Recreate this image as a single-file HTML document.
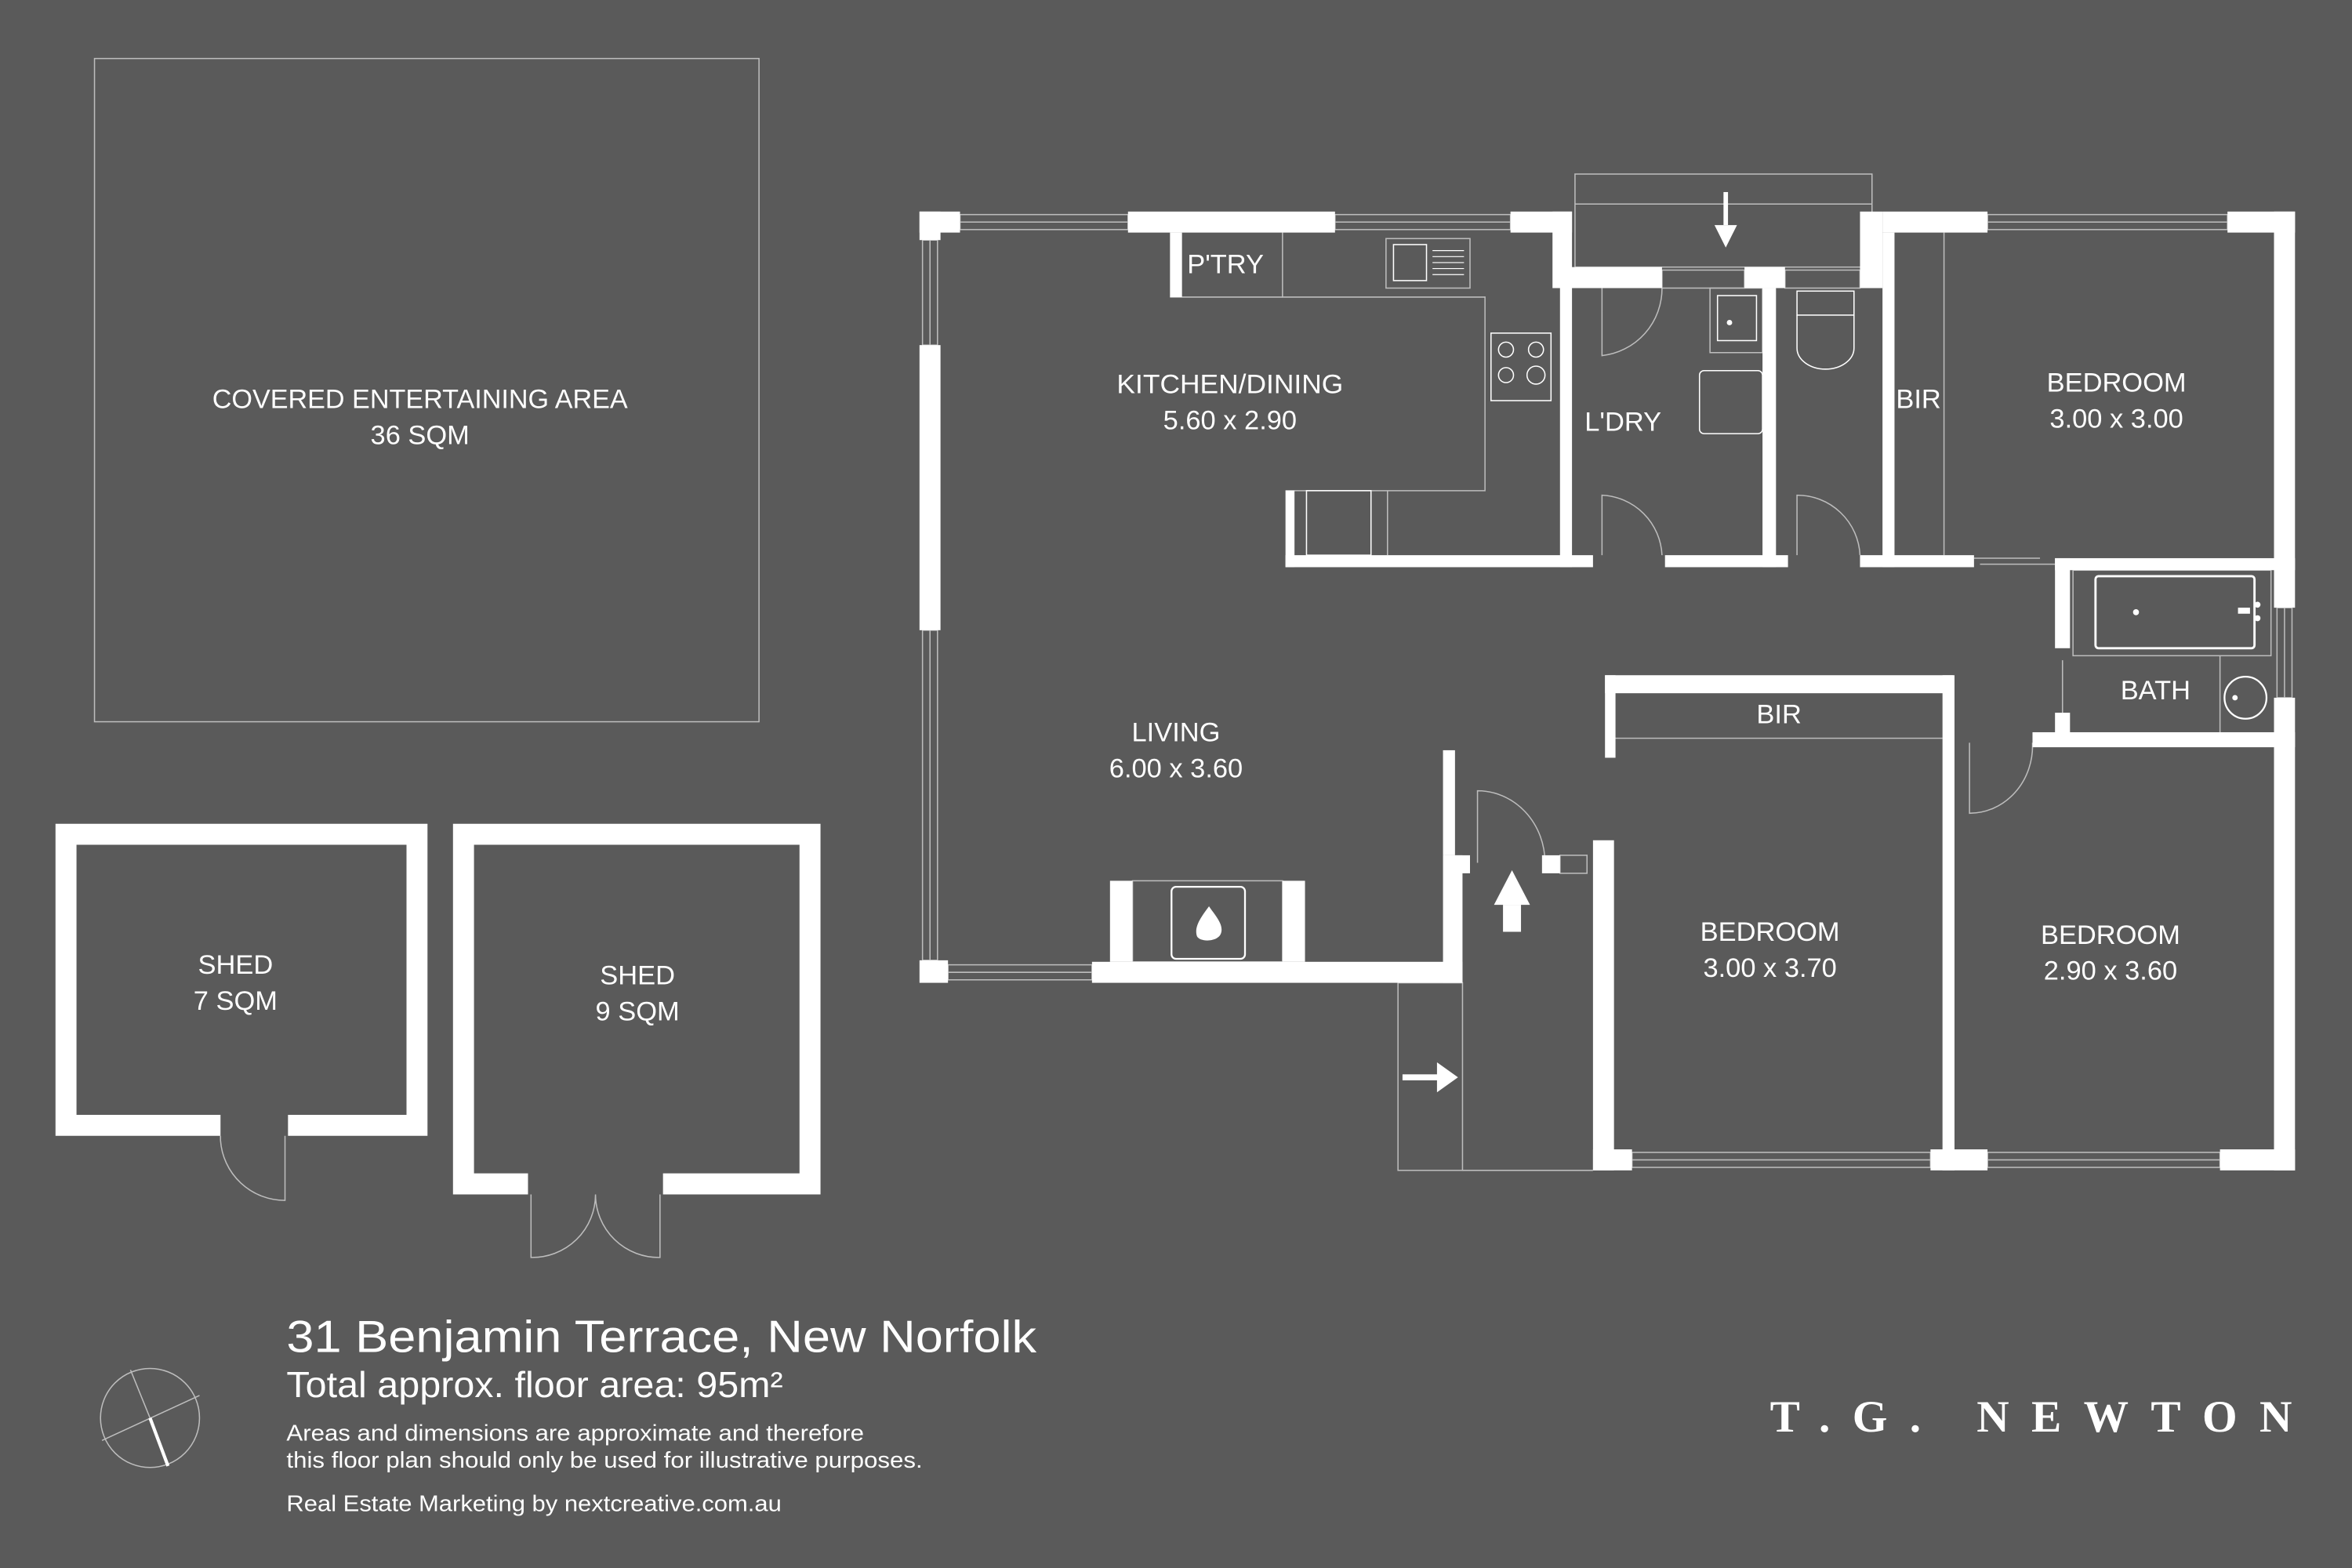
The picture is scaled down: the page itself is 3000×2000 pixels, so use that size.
<!DOCTYPE html>
<html><head><meta charset="utf-8"><style>
html,body{margin:0;padding:0;background:#5a5a5a;}
svg{display:block}
text{font-family:"Liberation Sans",sans-serif;fill:#fff}
</style></head><body>
<svg width="3000" height="2000" viewBox="0 0 1568 1045" preserveAspectRatio="none" xmlns="http://www.w3.org/2000/svg">
<rect width="1568" height="1045" fill="#5a5a5a"/>
<g fill="none" stroke="#bdbdbd" stroke-width="0.8">
 <rect x="63" y="39" width="443" height="442"/>
 <rect x="1050" y="116" width="198" height="62"/>
 <line x1="1050" y1="136" x2="1248" y2="136"/>
 <rect x="932" y="655" width="43" height="125"/>
 <line x1="975" y1="780" x2="1062" y2="780"/>
 <rect x="640" y="143" width="112" height="10"/><line x1="640" y1="148" x2="752" y2="148"/>
 <rect x="890" y="143" width="117" height="10"/><line x1="890" y1="148" x2="1007" y2="148"/>
 <rect x="1325" y="143" width="160" height="10"/><line x1="1325" y1="148" x2="1485" y2="148"/>
 <rect x="615" y="160" width="10" height="70"/><line x1="620" y1="160" x2="620" y2="230"/>
 <rect x="615" y="420" width="10" height="220"/><line x1="620" y1="420" x2="620" y2="640"/>
 <rect x="632" y="643" width="96" height="10"/><line x1="632" y1="648" x2="728" y2="648"/>
 <rect x="1088" y="768" width="199" height="10"/><line x1="1088" y1="773" x2="1287" y2="773"/>
 <rect x="1325" y="768" width="155" height="10"/><line x1="1325" y1="773" x2="1480" y2="773"/>
 <rect x="1518" y="405" width="10" height="60"/><line x1="1523" y1="405" x2="1523" y2="465"/>
 <rect x="1064" y="660" width="10" height="100"/><line x1="1069" y1="660" x2="1069" y2="760"/>
 <rect x="1108" y="180" width="55" height="12"/><rect x="1190" y="180" width="50" height="12"/>
 <rect x="1040" y="570" width="18" height="12"/>
 <polyline points="857,327 990,327 990,198 855,198 855,155"/>
 <line x1="780" y1="198" x2="855" y2="198"/>
 <line x1="925" y1="327" x2="925" y2="370"/>
 <rect x="924" y="159" width="56" height="33"/>
 <rect x="929" y="163" width="22" height="24" stroke="#fff"/>
 <g stroke="#fff" stroke-width="0.6"><line x1="955" y1="167" x2="976" y2="167"/><line x1="955" y1="171" x2="976" y2="171"/><line x1="955" y1="175" x2="976" y2="175"/><line x1="955" y1="179" x2="976" y2="179"/><line x1="955" y1="183" x2="976" y2="183"/></g>
 <rect x="994" y="222" width="40" height="45" stroke="#fff"/>
 <circle cx="1004" cy="233" r="5" stroke="#fff"/><circle cx="1024" cy="233" r="5" stroke="#fff"/>
 <circle cx="1004" cy="250" r="5" stroke="#fff"/><circle cx="1024" cy="250" r="6" stroke="#fff"/>
 <rect x="871" y="327" width="43" height="43" stroke="#fff"/>
 <rect x="755" y="587" width="100" height="54"/>
 <rect x="781" y="591" width="49" height="48" rx="3" stroke="#fff" stroke-width="1.2"/>
 <rect x="1140" y="192" width="35" height="43"/>
 <rect x="1145" y="197" width="26" height="30" stroke="#fff"/>
 <rect x="1133" y="247" width="42" height="42" rx="3" stroke="#fff"/>
 <rect x="1198" y="194" width="38" height="16" stroke="#fff"/>
 <path d="M1198 210 L1198 232 A19 14 0 0 0 1236 232 L1236 210" stroke="#fff"/>
 <path d="M1068 192 L1068 237 A45 45 0 0 0 1108 192"/>
 <path d="M1068 370 L1068 330 A42 42 0 0 1 1108 370"/>
 <path d="M1198 370 L1198 330 A42 42 0 0 1 1240 370"/>
 <path d="M985 575 L985 527 A45 48 0 0 1 1030 575"/>
 <path d="M1313 495 L1313 542 A42 45 0 0 0 1355 495"/>
 <path d="M1316 372 L1360 372 M1320 376 L1370 376"/>
 <line x1="1296" y1="155" x2="1296" y2="370"/>
 <line x1="1076" y1="492" x2="1295" y2="492"/>
 <rect x="1382" y="380" width="132" height="57"/>
 <rect x="1397" y="384" width="106" height="48" rx="2" stroke="#fff" stroke-width="1.5"/>
 <line x1="1480" y1="437" x2="1480" y2="492"/>
 <circle cx="1497" cy="465" r="14" stroke="#fff" stroke-width="1.2"/>
 <line x1="1375" y1="440" x2="1375" y2="475"/>
 <path d="M147 757 L147 760 A43 43 0 0 0 190 800 L190 757"/>
 <path d="M354 796 L354 838 A42 42 0 0 0 397 796 A42 42 0 0 0 440 838 L440 796"/>
 <circle cx="100" cy="945" r="33"/>
 <line x1="87" y1="913" x2="100" y2="945"/><line x1="68" y1="960" x2="133" y2="930"/>
</g>
<line x1="100" y1="945" x2="112" y2="977" stroke="#fff" stroke-width="2.2"/>
<g fill="#fff">
 <circle cx="1424" cy="408" r="2"/><rect x="1492" y="405" width="8" height="4"/><circle cx="1505" cy="403" r="2"/><circle cx="1505" cy="412" r="2"/>
 <circle cx="1490" cy="465" r="1.8"/><circle cx="1153" cy="215" r="1.8"/>
 <rect x="1149" y="128" width="3" height="22"/><polygon points="1143,150 1158,150 1150.5,165"/>
 <polygon points="1008,580 996,603 1020,603"/><rect x="1002" y="603" width="12" height="18"/>
 <rect x="935" y="716" width="25" height="4"/><polygon points="958,708 972,718 958,728"/>
 <path d="M806 604 C800 612 796 618 798 624 C800 628 812 628 814 622 C816 616 810 610 806 604 Z"/>
 <rect x="613" y="141" width="27" height="14"/><rect x="752" y="141" width="138" height="14"/><rect x="1007" y="141" width="41" height="14"/>
 <rect x="613" y="141" width="14" height="19"/><rect x="613" y="230" width="14" height="190"/><rect x="613" y="640" width="19" height="15"/>
 <rect x="728" y="641" width="247" height="14"/>
 <rect x="740" y="587" width="15" height="54"/><rect x="855" y="587" width="15" height="54"/>
 <rect x="962" y="500" width="8" height="70"/><rect x="962" y="570" width="13" height="85"/>
 <rect x="1035" y="141" width="13" height="51"/><rect x="1040" y="178" width="68" height="14"/>
 <rect x="1163" y="178" width="27" height="14"/><rect x="1240" y="141" width="15" height="51"/>
 <rect x="1040" y="192" width="8" height="186"/>
 <rect x="1175" y="192" width="9" height="186"/>
 <rect x="1255" y="141" width="70" height="14"/><rect x="1255" y="155" width="8" height="223"/>
 <rect x="1485" y="141" width="45" height="14"/><rect x="1516" y="141" width="14" height="264"/>
 <rect x="1516" y="465" width="14" height="315"/>
 <rect x="857" y="370" width="205" height="8"/><rect x="857" y="327" width="6" height="51"/>
 <rect x="780" y="155" width="8" height="43"/>
 <rect x="1110" y="370" width="82" height="8"/><rect x="1240" y="370" width="76" height="8"/>
 <rect x="1370" y="372" width="160" height="8"/><rect x="1370" y="372" width="10" height="60"/><rect x="1370" y="475" width="10" height="20"/>
 <rect x="1355" y="488" width="175" height="10"/>
 <rect x="1070" y="450" width="232" height="12"/><rect x="1070" y="450" width="7" height="55"/>
 <rect x="1295" y="450" width="8" height="330"/>
 <rect x="1062" y="560" width="14" height="220"/>
 <rect x="1062" y="766" width="26" height="14"/><rect x="1287" y="766" width="38" height="14"/><rect x="1480" y="766" width="50" height="14"/>
 <rect x="1028" y="570" width="12" height="12"/><rect x="970" y="570" width="10" height="12"/>
 <path d="M37 549 H285 V757 H192 V743 H271 V563 H51 V743 H147 V757 H37 Z"/>
 <path d="M302 549 H547 V796 H442 V782 H533 V563 H316 V782 H352 V796 H302 Z"/>
</g>
<g font-size="18" text-anchor="middle">
 <text x="280" y="272" textLength="277" lengthAdjust="spacingAndGlyphs">COVERED ENTERTAINING AREA</text>
 <text x="280" y="296">36 SQM</text>
 <text x="820" y="262" textLength="151" lengthAdjust="spacingAndGlyphs">KITCHEN/DINING</text>
 <text x="820" y="286">5.60 x 2.90</text>
 <text x="817" y="182">P'TRY</text>
 <text x="1082" y="287">L'DRY</text>
 <text x="1279" y="272">BIR</text>
 <text x="1411" y="261">BEDROOM</text><text x="1411" y="285">3.00 x 3.00</text>
 <text x="784" y="494">LIVING</text><text x="784" y="518">6.00 x 3.60</text>
 <text x="1186" y="482">BIR</text>
 <text x="1437" y="466">BATH</text>
 <text x="1180" y="627">BEDROOM</text><text x="1180" y="651">3.00 x 3.70</text>
 <text x="1407" y="629">BEDROOM</text><text x="1407" y="653">2.90 x 3.60</text>
 <text x="157" y="649">SHED</text><text x="157" y="673">7 SQM</text>
 <text x="425" y="656">SHED</text><text x="425" y="680">9 SQM</text>
</g>
<text x="191" y="901" font-size="30" textLength="500" lengthAdjust="spacingAndGlyphs">31 Benjamin Terrace, New Norfolk</text>
<text x="191" y="931" font-size="24" textLength="331" lengthAdjust="spacingAndGlyphs">Total approx. floor area: 95m²</text>
<text x="191" y="960" font-size="15" textLength="385" lengthAdjust="spacingAndGlyphs">Areas and dimensions are approximate and therefore</text>
<text x="191" y="978" font-size="15" textLength="424" lengthAdjust="spacingAndGlyphs">this floor plan should only be used for illustrative purposes.</text>
<text x="191" y="1007" font-size="15" textLength="330" lengthAdjust="spacingAndGlyphs">Real Estate Marketing by nextcreative.com.au</text>
<text x="1180" y="954" font-size="30" font-weight="bold" style="font-family:'Liberation Serif',serif" textLength="348" lengthAdjust="spacing">T.G. NEWTON</text>
</svg>
</body></html>
